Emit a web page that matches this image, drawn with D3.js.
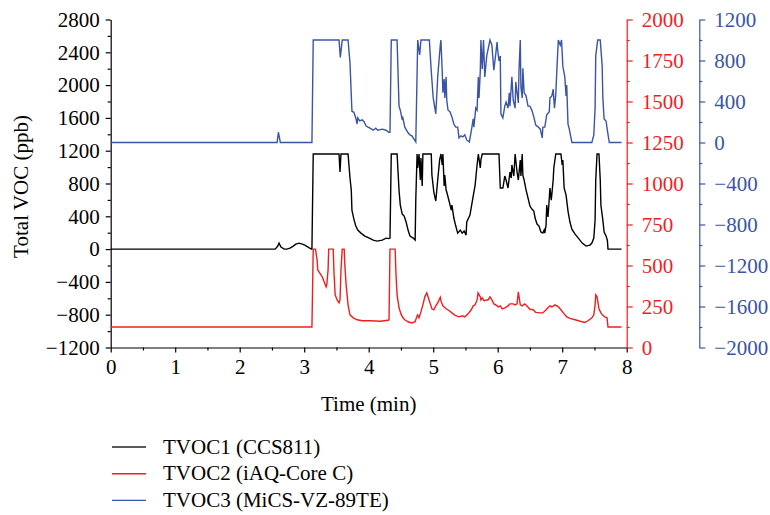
<!DOCTYPE html>
<html>
<head>
  <meta charset="utf-8">
  <script src="https://d3js.org/d3.v7.min.js"></script>
  <style>
    body { margin: 0; background: #fff; }
  </style>
</head>
<body>
  <svg></svg>
  <script>
    // Chart dimensions and plot area
    const width = 770;
    const height = 515;
    const marginLeft = 110.7;
    const plotRight = 626.7;
    const plotTop = 19.5;
    const plotBottom = 347.5;
    const fontSize = 21;
    const fontFamily = "'Liberation Serif', 'DejaVu Serif', 'Times New Roman', serif";

    const red = "#f01f1f";
    const blue = "#3a55a5";

    // Tick values
    const xTicks = [0, 1, 2, 3, 4, 5, 6, 7, 8];
    const leftTicks = [-1200, -800, -400, 0, 400, 800, 1200, 1600, 2000, 2400, 2800];
    const redTicks = [0, 250, 500, 750, 1000, 1250, 1500, 1750, 2000];
    const blueTicks = [-2000, -1600, -1200, -800, -400, 0, 400, 800, 1200];

    // Series: [time (min), TVOC]
    const tvoc1 = [
      [0, 0], [2.55, 0], [2.59, 37], [2.61, 73], [2.64, 24], [2.69, 0], [2.73, 0], [2.78, 12],
      [2.83, 37], [2.87, 61], [2.92, 73], [2.97, 61], [3.01, 49], [3.06, 24], [3.11, 0], [3.12, 0],
      [3.14, 1160], [3.54, 1160], [3.555, 940], [3.57, 1160], [3.68, 1160], [3.71, 867], [3.73, 720],
      [3.74, 476], [3.77, 366], [3.80, 281], [3.83, 232], [3.88, 195], [3.94, 159], [4.01, 134],
      [4.07, 110], [4.13, 98], [4.21, 110], [4.27, 134], [4.31, 128], [4.33, 134], [4.35, 1160],
      [4.44, 1160], [4.47, 720], [4.49, 537], [4.52, 427], [4.55, 403], [4.58, 330], [4.61, 232],
      [4.64, 159], [4.69, 134], [4.72, 110], [4.73, 598], [4.75, 1160], [4.76, 989], [4.78, 1160],
      [4.80, 842], [4.81, 1111], [4.83, 769], [4.84, 1160], [4.97, 1160], [4.98, 903], [5.01, 696],
      [5.04, 586], [5.07, 842], [5.10, 1087], [5.12, 1160], [5.14, 1026], [5.15, 1160], [5.17, 769],
      [5.18, 903], [5.20, 720], [5.21, 696], [5.25, 574], [5.28, 476], [5.29, 537], [5.32, 379],
      [5.35, 281], [5.38, 195], [5.42, 232], [5.45, 195], [5.48, 220], [5.51, 171], [5.52, 330],
      [5.57, 415], [5.62, 647], [5.65, 781], [5.68, 1026], [5.70, 1160], [5.73, 989], [5.74, 1087],
      [5.76, 1160], [6.02, 1160], [6.04, 745], [6.08, 745], [6.11, 891], [6.13, 842], [6.16, 745],
      [6.19, 940], [6.21, 867], [6.22, 1026], [6.25, 891], [6.27, 1160], [6.30, 940], [6.32, 842],
      [6.35, 1087], [6.36, 891], [6.38, 1160], [6.39, 903], [6.41, 842], [6.44, 720], [6.47, 623],
      [6.50, 525], [6.53, 488], [6.56, 464], [6.58, 379], [6.61, 305], [6.64, 281], [6.67, 208],
      [6.70, 195], [6.72, 232], [6.73, 195], [6.75, 293], [6.76, 537], [6.78, 391], [6.81, 745],
      [6.83, 598], [6.84, 672], [6.86, 842], [6.87, 989], [6.90, 1160], [6.98, 1160], [7.00, 1026],
      [7.01, 1087], [7.03, 745], [7.06, 659], [7.09, 464], [7.12, 330], [7.15, 244], [7.20, 183],
      [7.25, 134], [7.31, 73], [7.37, 37], [7.43, 49], [7.46, 73], [7.49, 134], [7.51, 354],
      [7.52, 842], [7.54, 1160], [7.57, 1160], [7.59, 842], [7.60, 537], [7.63, 354], [7.65, 208],
      [7.68, 159], [7.70, 110], [7.71, 0], [7.92, 0]
    ];

    const tvoc2 = [
      [0, 125], [3.12, 125], [3.14, 600], [3.175, 600], [3.20, 534], [3.21, 473], [3.25, 449],
      [3.28, 431], [3.31, 400], [3.34, 370], [3.35, 382], [3.37, 473], [3.38, 600], [3.45, 600],
      [3.46, 473], [3.48, 321], [3.51, 290], [3.54, 272], [3.555, 290], [3.57, 473], [3.59, 600],
      [3.62, 600], [3.63, 504], [3.65, 382], [3.68, 260], [3.71, 199], [3.76, 181], [3.82, 169],
      [3.90, 163], [4.02, 163], [4.18, 160], [4.30, 166], [4.315, 169], [4.33, 600], [4.41, 600],
      [4.42, 473], [4.44, 321], [4.47, 242], [4.50, 205], [4.53, 181], [4.56, 169], [4.61, 157],
      [4.67, 150], [4.72, 157], [4.75, 193], [4.76, 199], [4.78, 181], [4.81, 217], [4.84, 260],
      [4.87, 309], [4.90, 333], [4.92, 309], [4.95, 272], [4.98, 236], [5.01, 230], [5.04, 254],
      [5.07, 272], [5.11, 306], [5.12, 284], [5.15, 254], [5.20, 236], [5.25, 224], [5.29, 211],
      [5.34, 196], [5.40, 187], [5.45, 193], [5.49, 187], [5.54, 205], [5.59, 230], [5.62, 254],
      [5.65, 260], [5.68, 290], [5.695, 333], [5.73, 309], [5.74, 290], [5.76, 303], [5.79, 284],
      [5.82, 290], [5.85, 290], [5.88, 309], [5.91, 290], [5.94, 266], [5.97, 260], [6.01, 248],
      [6.04, 254], [6.07, 236], [6.11, 242], [6.16, 254], [6.19, 266], [6.24, 266], [6.27, 260],
      [6.30, 266], [6.32, 339], [6.35, 260], [6.38, 254], [6.42, 266], [6.45, 254], [6.50, 233],
      [6.55, 230], [6.59, 214], [6.66, 211], [6.70, 211], [6.75, 230], [6.78, 242], [6.81, 254],
      [6.84, 248], [6.89, 260], [6.94, 248], [6.98, 230], [7.03, 205], [7.07, 187], [7.12, 178],
      [7.20, 169], [7.28, 160], [7.35, 153], [7.40, 163], [7.46, 181], [7.49, 199], [7.51, 260],
      [7.52, 321], [7.54, 309], [7.555, 272], [7.57, 236], [7.60, 211], [7.63, 196], [7.66, 187],
      [7.695, 181], [7.71, 125], [7.92, 125]
    ];

    const tvoc3 = [
      [0, 0], [2.58, 0], [2.60, 100], [2.63, 0], [3.12, 0], [3.14, 1000], [3.54, 1000], [3.56, 830],
      [3.59, 1000], [3.68, 1000], [3.71, 775], [3.74, 305], [3.77, 295], [3.80, 240], [3.82, 180],
      [3.83, 240], [3.86, 210], [3.90, 220], [3.93, 200], [3.96, 160], [3.99, 150], [4.02, 140],
      [4.07, 120], [4.11, 140], [4.14, 120], [4.21, 130], [4.27, 120], [4.31, 100], [4.33, 100],
      [4.35, 1000], [4.44, 1000], [4.47, 355], [4.49, 315], [4.52, 220], [4.53, 240], [4.56, 150],
      [4.61, 95], [4.64, 75], [4.67, 65], [4.70, 35], [4.73, 5], [4.76, 1000], [4.79, 855],
      [4.81, 1000], [4.94, 1000], [4.97, 695], [5.00, 435], [5.04, 280], [5.07, 640], [5.11, 950],
      [5.12, 1000], [5.14, 695], [5.15, 485], [5.17, 620], [5.18, 435], [5.20, 640], [5.21, 415],
      [5.23, 315], [5.26, 300], [5.29, 250], [5.32, 180], [5.35, 150], [5.38, 150], [5.40, 45],
      [5.43, 65], [5.46, 55], [5.49, 75], [5.52, 25], [5.56, 5], [5.59, 110], [5.62, 230],
      [5.63, 150], [5.66, 335], [5.68, 315], [5.70, 640], [5.71, 435], [5.73, 695], [5.74, 1000],
      [5.76, 715], [5.78, 1000], [5.80, 640], [5.83, 845], [5.88, 1000], [5.91, 950], [5.94, 705],
      [5.97, 865], [5.99, 980], [6.00, 900], [6.02, 795], [6.04, 845], [6.05, 280], [6.08, 240],
      [6.11, 355], [6.13, 395], [6.16, 335], [6.18, 485], [6.19, 355], [6.22, 640], [6.24, 415],
      [6.27, 335], [6.28, 590], [6.32, 385], [6.33, 695], [6.35, 1000], [6.36, 540], [6.38, 435],
      [6.39, 725], [6.41, 485], [6.44, 455], [6.47, 355], [6.50, 355], [6.53, 315], [6.56, 250],
      [6.59, 170], [6.63, 150], [6.66, 130], [6.69, 45], [6.70, 150], [6.73, 150], [6.76, 270],
      [6.80, 300], [6.81, 435], [6.84, 455], [6.86, 520], [6.88, 335], [6.90, 465], [6.92, 745],
      [6.94, 1000], [6.97, 950], [6.99, 1000], [7.01, 745], [7.04, 640], [7.06, 455], [7.07, 560],
      [7.09, 180], [7.11, 130], [7.15, 0], [7.46, 0], [7.49, 75], [7.51, 335], [7.52, 845],
      [7.55, 1000], [7.59, 1000], [7.62, 745], [7.63, 435], [7.65, 230], [7.68, 210], [7.70, 120],
      [7.73, 0], [7.92, 0]
    ];

    const legendNames = ["TVOC1 (CCS811)", "TVOC2 (iAQ-Core C)", "TVOC3 (MiCS-VZ-89TE)"];
    const legendColors = ["#222", red, blue];

    const x = d3.scaleLinear().domain([0, 8]).range([marginLeft, plotRight]);
    const yLeft = d3.scaleLinear().domain([-1200, 2800]).range([plotBottom, plotTop]);
    const yRed = d3.scaleLinear().domain([0, 2000]).range([plotBottom, plotTop]);
    const yBlue = d3.scaleLinear().domain([-2000, 1200]).range([plotBottom, plotTop]);

    const svg = d3.select("svg")
      .attr("width", width)
      .attr("height", height)
      .attr("viewBox", [0, 0, width, height])
      .attr("font-family", fontFamily);

    const fmt = d3.format("d");

    const styleAxis = (g, color) => {
      g.attr("font-family", null).attr("font-size", null);
      g.selectAll("path, line").attr("stroke", color).attr("stroke-width", 1.2);
      g.selectAll("text")
        .attr("fill", color)
        .style("font-family", fontFamily)
        .style("font-size", fontSize + "px");
    };

    // Minor ticks (halfway between majors)
    const halfSteps = (ticks) => d3.pairs(ticks).map(([a, b]) => (a + b) / 2);

    // X axis
    svg.append("g")
      .attr("transform", `translate(0,${plotBottom})`)
      .call(d3.axisBottom(x).tickValues(halfSteps(xTicks)).tickSize(3).tickFormat(""))
      .call(g => g.select(".domain").remove())
      .call(g => styleAxis(g, "#000"));
    svg.append("g")
      .attr("transform", `translate(0,${plotBottom})`)
      .call(d3.axisBottom(x).tickValues(xTicks).tickSizeInner(5).tickSizeOuter(0).tickPadding(7).tickFormat(fmt))
      .call(g => styleAxis(g, "#000"));

    // Left axis
    svg.append("g")
      .attr("transform", `translate(${marginLeft},0)`)
      .call(d3.axisLeft(yLeft).tickValues(halfSteps(leftTicks)).tickSize(3).tickFormat(""))
      .call(g => g.select(".domain").remove())
      .call(g => styleAxis(g, "#000"));
    svg.append("g")
      .attr("transform", `translate(${marginLeft},0)`)
      .call(d3.axisLeft(yLeft).tickValues(leftTicks).tickSizeInner(5).tickSizeOuter(0).tickPadding(6).tickFormat(fmt))
      .call(g => styleAxis(g, "#000"));

    // Red axis
    svg.append("g")
      .attr("transform", `translate(${plotRight},0)`)
      .call(d3.axisRight(yRed).tickValues(halfSteps(redTicks)).tickSize(3).tickFormat(""))
      .call(g => g.select(".domain").remove())
      .call(g => styleAxis(g, red));
    svg.append("g")
      .attr("transform", `translate(${plotRight},0)`)
      .call(d3.axisRight(yRed).tickValues(redTicks).tickSizeInner(6).tickSizeOuter(0).tickPadding(9).tickFormat(fmt))
      .call(g => styleAxis(g, red));

    // Blue axis
    const blueX = 699.3;
    svg.append("g")
      .attr("transform", `translate(${blueX},0)`)
      .call(d3.axisRight(yBlue).tickValues(halfSteps(blueTicks)).tickSize(3).tickFormat(""))
      .call(g => g.select(".domain").remove())
      .call(g => styleAxis(g, blue));
    svg.append("g")
      .attr("transform", `translate(${blueX},0)`)
      .call(d3.axisRight(yBlue).tickValues(blueTicks).tickSizeInner(6).tickSizeOuter(0).tickPadding(9).tickFormat(fmt))
      .call(g => styleAxis(g, blue));

    // Axis titles
    svg.append("text")
      .attr("x", (marginLeft + plotRight) / 2)
      .attr("y", 411)
      .attr("text-anchor", "middle")
      .style("font-family", fontFamily)
      .style("font-size", fontSize + "px")
      .text("Time (min)");

    svg.append("text")
      .attr("transform", `translate(28,${(plotTop + plotBottom) / 2 + 3}) rotate(-90)`)
      .attr("text-anchor", "middle")
      .style("font-family", fontFamily)
      .style("font-size", fontSize + "px")
      .text("Total VOC (ppb)");

    // Lines
    const line = (yScale) => d3.line().x(d => x(d[0])).y(d => yScale(d[1]));

    svg.append("path").datum(tvoc3)
      .attr("fill", "none").attr("stroke", blue).attr("stroke-width", 1.4)
      .attr("d", line(yBlue));
    svg.append("path").datum(tvoc1)
      .attr("fill", "none").attr("stroke", "#000").attr("stroke-width", 1.4)
      .attr("d", line(yLeft));
    svg.append("path").datum(tvoc2)
      .attr("fill", "none").attr("stroke", red).attr("stroke-width", 1.4)
      .attr("d", line(yRed));

    // Legend
    const legend = svg.append("g")
      .selectAll("g")
      .data(legendNames)
      .join("g")
        .attr("transform", (d, i) => `translate(112,${447 + i * 26.7})`);
    legend.append("line")
      .attr("x1", 0).attr("x2", 34)
      .attr("stroke", (d, i) => legendColors[i])
      .attr("stroke-width", 1.4);
    legend.append("text")
      .attr("x", 51)
      .attr("dy", "0.32em")
      .style("font-family", fontFamily)
      .style("font-size", fontSize + "px")
      .text(d => d);
  </script>
</body>
</html>
